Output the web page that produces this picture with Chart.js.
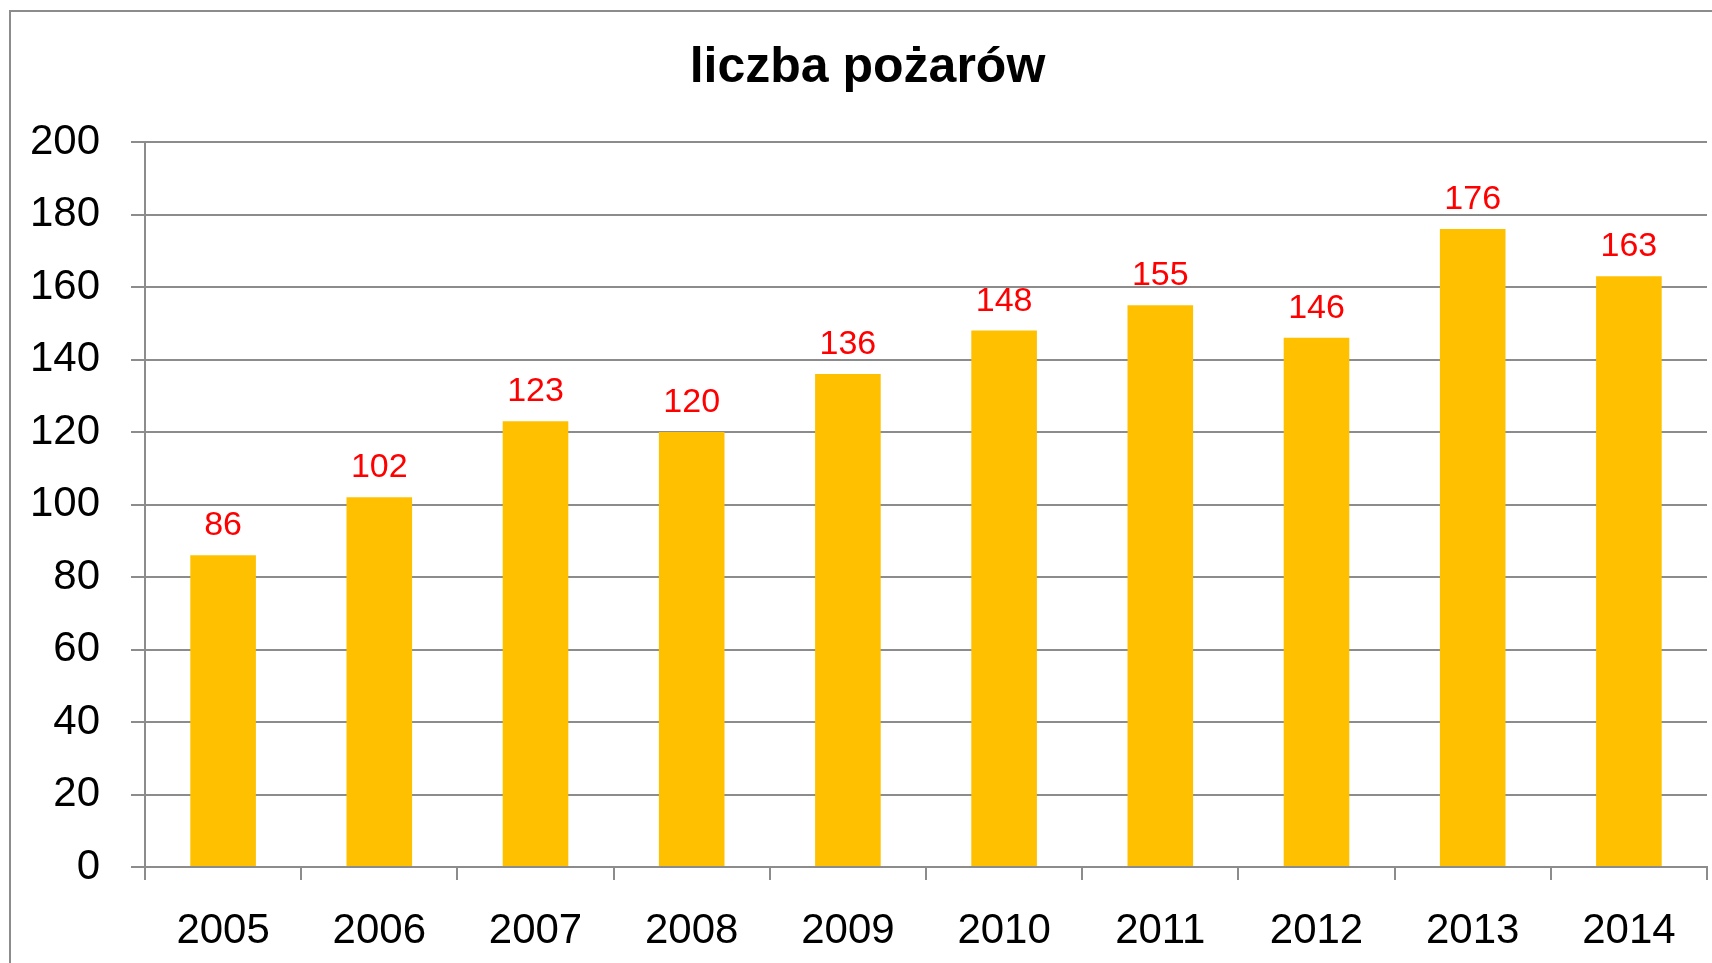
<!DOCTYPE html>
<html lang="pl">
<head>
    <meta charset="UTF-8">
    <title>liczba pożarów</title>
    <script src="https://cdn.jsdelivr.net/npm/chart.js"></script>
    <style>
        body { margin: 0; background: #fff; overflow: hidden; }
    </style>
</head>
<body>
    <canvas id="fireChart" width="1712" height="963"></canvas>
    <script>
        const years = ['2005', '2006', '2007', '2008', '2009', '2010', '2011', '2012', '2013', '2014'];
        const fires = [86, 102, 123, 120, 136, 148, 155, 146, 176, 163];
        const titleText = 'liczba pożarów';

        const fontFamily = '"Liberation Sans", Arial, sans-serif';
        const gridColor = '#8c8c8c';

        // ramka wykresu (lewa i górna krawędź widoczne)
        const frame = {
            id: 'frame',
            beforeDraw(chart) {
                const ctx = chart.ctx;
                ctx.save();
                ctx.strokeStyle = '#8c8c8c';
                ctx.lineWidth = 2;
                ctx.strokeRect(10, 11, 3000, 3000);
                ctx.restore();
            }
        };

        // etykiety wartości nad słupkami
        const valueLabels = {
            id: 'valueLabels',
            afterDatasetsDraw(chart) {
                const ctx = chart.ctx;
                const meta = chart.getDatasetMeta(0);
                ctx.save();
                ctx.fillStyle = '#ff0000';
                ctx.font = '34px ' + fontFamily;
                ctx.textAlign = 'center';
                ctx.textBaseline = 'alphabetic';
                meta.data.forEach((bar, i) => {
                    ctx.fillText(String(fires[i]), bar.x, bar.y - 20);
                });
                ctx.restore();
            }
        };

        const chart = new Chart(document.getElementById('fireChart'), {
            type: 'bar',
            data: {
                labels: years,
                datasets: [{
                    label: titleText,
                    data: fires,
                    backgroundColor: '#ffc000',
                    borderWidth: 0,
                    barPercentage: 0.42,
                    categoryPercentage: 1.0
                }]
            },
            options: {
                responsive: false,
                animation: false,
                layout: { padding: { left: 28, right: 5, top: 0, bottom: 0 } },
                plugins: {
                    legend: { display: false },
                    tooltip: { enabled: false },
                    title: {
                        display: true,
                        text: titleText,
                        color: '#000',
                        font: { family: fontFamily, size: 50, weight: 'bold', lineHeight: 1.2 },
                        padding: { top: 38, bottom: 44 }
                    }
                },
                scales: {
                    x: {
                        afterFit(scale) { scale.height = 96; },
                        grid: {
                            drawOnChartArea: false,
                            drawTicks: true,
                            tickLength: 13,
                            color: gridColor,
                            lineWidth: 2
                        },
                        border: { display: true, color: gridColor, width: 2 },
                        ticks: {
                            color: '#000',
                            font: { family: fontFamily, size: 42 },
                            padding: 26,
                            maxRotation: 0
                        }
                    },
                    y: {
                        min: 0,
                        max: 200,
                        afterFit(scale) { scale.width = 117; },
                        grid: {
                            color: gridColor,
                            lineWidth: 2,
                            drawTicks: true,
                            tickLength: 14
                        },
                        border: { display: true, color: gridColor, width: 2 },
                        ticks: {
                            stepSize: 20,
                            color: '#000',
                            font: { family: fontFamily, size: 42 },
                            padding: 31
                        }
                    }
                }
            },
            plugins: [frame, valueLabels]
        });
    </script>
</body>
</html>
